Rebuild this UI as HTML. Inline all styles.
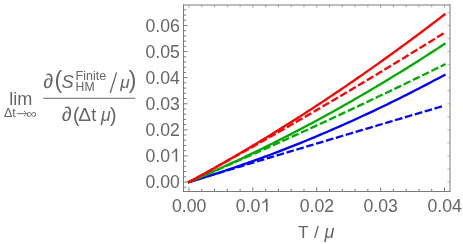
<!DOCTYPE html>
<html><head><meta charset="utf-8"><title>plot</title>
<style>
html,body{margin:0;padding:0;background:#fff;}
body{width:463px;height:244px;position:relative;overflow:hidden;font-family:"Liberation Sans",sans-serif;}
</style></head><body>
<svg width="463" height="244" viewBox="0 0 463 244" style="position:absolute;left:0;top:0;will-change:transform">
<rect x="0" y="0" width="463" height="244" fill="#ffffff"/>
<polyline points="189.00,182.00 192.19,181.05 195.39,180.08 198.58,179.11 201.78,178.12 204.97,177.13 208.16,176.13 211.36,175.11 214.55,174.09 217.74,173.06 220.94,172.02 224.13,170.97 227.32,169.90 230.52,168.83 233.71,167.75 236.91,166.66 240.10,165.56 243.29,164.45 246.49,163.33 249.68,162.20 252.88,161.06 256.07,159.92 259.26,158.76 262.46,157.59 265.65,156.41 268.84,155.22 272.04,154.03 275.23,152.82 278.43,151.60 281.62,150.38 284.81,149.14 288.01,147.89 291.20,146.64 294.39,145.37 297.59,144.10 300.78,142.81 303.98,141.52 307.17,140.22 310.36,138.90 313.56,137.58 316.75,136.24 319.94,134.90 323.14,133.55 326.33,132.19 329.52,130.81 332.72,129.43 335.91,128.04 339.11,126.64 342.30,125.23 345.49,123.81 348.69,122.38 351.88,120.94 355.08,119.49 358.27,118.03 361.46,116.56 364.66,115.08 367.85,113.59 371.04,112.09 374.24,110.59 377.43,109.07 380.62,107.54 383.82,106.00 387.01,104.46 390.21,102.90 393.40,101.33 396.59,99.76 399.79,98.17 402.98,96.58 406.18,94.97 409.37,93.36 412.56,91.73 415.76,90.10 418.95,88.45 422.14,86.80 425.34,85.14 428.53,83.46 431.73,81.78 434.92,80.09 438.11,78.39 441.31,76.68 444.50,74.95" fill="none" stroke="#0000ff" stroke-width="2.3" stroke-linecap="square"/>
<polyline points="189.00,182.00 192.19,181.03 195.39,180.06 198.58,179.10 201.78,178.13 204.97,177.16 208.16,176.19 211.36,175.23 214.55,174.26 217.74,173.30 220.94,172.33 224.13,171.36 227.32,170.40 230.52,169.44 233.71,168.47 236.91,167.51 240.10,166.54 243.29,165.58 246.49,164.62 249.68,163.66 252.88,162.69 256.07,161.73 259.26,160.77 262.46,159.81 265.65,158.85 268.84,157.89 272.04,156.93 275.23,155.97 278.43,155.01 281.62,154.05 284.81,153.09 288.01,152.14 291.20,151.18 294.39,150.22 297.59,149.26 300.78,148.31 303.98,147.35 307.17,146.39 310.36,145.44 313.56,144.48 316.75,143.53 319.94,142.57 323.14,141.62 326.33,140.67 329.52,139.71 332.72,138.76 335.91,137.81 339.11,136.85 342.30,135.90 345.49,134.95 348.69,134.00 351.88,133.05 355.08,132.09 358.27,131.14 361.46,130.19 364.66,129.24 367.85,128.29 371.04,127.35 374.24,126.40 377.43,125.45 380.62,124.50 383.82,123.55 387.01,122.61 390.21,121.66 393.40,120.71 396.59,119.77 399.79,118.82 402.98,117.87 406.18,116.93 409.37,115.98 412.56,115.04 415.76,114.09 418.95,113.15 422.14,112.21 425.34,111.26 428.53,110.32 431.73,109.38 434.92,108.44 438.11,107.49 441.31,106.55 444.50,105.61" fill="none" stroke="#0000ff" stroke-width="2.3" stroke-linecap="square" stroke-dasharray="5.3 5.0"/>
<polyline points="189.00,182.00 192.19,180.64 195.39,179.28 198.58,177.90 201.78,176.52 204.97,175.13 208.16,173.72 211.36,172.31 214.55,170.89 217.74,169.46 220.94,168.02 224.13,166.57 227.32,165.11 230.52,163.64 233.71,162.16 236.91,160.68 240.10,159.18 243.29,157.68 246.49,156.16 249.68,154.64 252.88,153.10 256.07,151.56 259.26,150.01 262.46,148.44 265.65,146.87 268.84,145.29 272.04,143.70 275.23,142.10 278.43,140.49 281.62,138.88 284.81,137.25 288.01,135.61 291.20,133.96 294.39,132.31 297.59,130.64 300.78,128.97 303.98,127.29 307.17,125.59 310.36,123.89 313.56,122.18 316.75,120.46 319.94,118.73 323.14,116.99 326.33,115.24 329.52,113.48 332.72,111.71 335.91,109.93 339.11,108.15 342.30,106.35 345.49,104.54 348.69,102.73 351.88,100.91 355.08,99.07 358.27,97.23 361.46,95.38 364.66,93.51 367.85,91.64 371.04,89.76 374.24,87.87 377.43,85.97 380.62,84.07 383.82,82.15 387.01,80.22 390.21,78.28 393.40,76.34 396.59,74.38 399.79,72.42 402.98,70.44 406.18,68.46 409.37,66.47 412.56,64.46 415.76,62.45 418.95,60.43 422.14,58.40 425.34,56.36 428.53,54.31 431.73,52.25 434.92,50.19 438.11,48.11 441.31,46.02 444.50,43.93" fill="none" stroke="#00aa00" stroke-width="2.3" stroke-linecap="square"/>
<polyline points="189.00,182.00 192.19,180.64 195.39,179.27 198.58,177.91 201.78,176.54 204.97,175.17 208.16,173.79 211.36,172.41 214.55,171.03 217.74,169.65 220.94,168.26 224.13,166.88 227.32,165.48 230.52,164.09 233.71,162.69 236.91,161.29 240.10,159.89 243.29,158.49 246.49,157.08 249.68,155.67 252.88,154.26 256.07,152.84 259.26,151.42 262.46,150.00 265.65,148.58 268.84,147.15 272.04,145.72 275.23,144.29 278.43,142.86 281.62,141.42 284.81,139.98 288.01,138.54 291.20,137.09 294.39,135.65 297.59,134.19 300.78,132.74 303.98,131.29 307.17,129.83 310.36,128.37 313.56,126.90 316.75,125.43 319.94,123.96 323.14,122.49 326.33,121.02 329.52,119.54 332.72,118.06 335.91,116.58 339.11,115.09 342.30,113.60 345.49,112.11 348.69,110.62 351.88,109.12 355.08,107.62 358.27,106.12 361.46,104.61 364.66,103.11 367.85,101.60 371.04,100.08 374.24,98.57 377.43,97.05 380.62,95.53 383.82,94.01 387.01,92.48 390.21,90.95 393.40,89.42 396.59,87.89 399.79,86.35 402.98,84.81 406.18,83.27 409.37,81.72 412.56,80.17 415.76,78.62 418.95,77.07 422.14,75.51 425.34,73.95 428.53,72.39 431.73,70.83 434.92,69.26 438.11,67.69 441.31,66.12 444.50,64.55" fill="none" stroke="#00aa00" stroke-width="2.3" stroke-linecap="square" stroke-dasharray="5.3 5.0"/>
<polyline points="189.00,182.00 192.19,180.27 195.39,178.53 198.58,176.78 201.78,175.02 204.97,173.25 208.16,171.47 211.36,169.68 214.55,167.88 217.74,166.08 220.94,164.26 224.13,162.44 227.32,160.61 230.52,158.76 233.71,156.91 236.91,155.05 240.10,153.18 243.29,151.30 246.49,149.42 249.68,147.52 252.88,145.61 256.07,143.70 259.26,141.77 262.46,139.84 265.65,137.90 268.84,135.94 272.04,133.98 275.23,132.01 278.43,130.03 281.62,128.04 284.81,126.04 288.01,124.04 291.20,122.02 294.39,120.00 297.59,117.96 300.78,115.92 303.98,113.86 307.17,111.80 310.36,109.73 313.56,107.65 316.75,105.56 319.94,103.46 323.14,101.35 326.33,99.24 329.52,97.11 332.72,94.97 335.91,92.83 339.11,90.68 342.30,88.51 345.49,86.34 348.69,84.16 351.88,81.97 355.08,79.77 358.27,77.56 361.46,75.34 364.66,73.12 367.85,70.88 371.04,68.63 374.24,66.38 377.43,64.12 380.62,61.84 383.82,59.56 387.01,57.27 390.21,54.97 393.40,52.66 396.59,50.34 399.79,48.01 402.98,45.68 406.18,43.33 409.37,40.97 412.56,38.61 415.76,36.24 418.95,33.85 422.14,31.46 425.34,29.06 428.53,26.65 431.73,24.23 434.92,21.80 438.11,19.36 441.31,16.92 444.50,14.46" fill="none" stroke="#ff0000" stroke-width="2.3" stroke-linecap="square"/>
<polyline points="189.00,182.00 192.19,180.26 195.39,178.52 198.58,176.78 201.78,175.03 204.97,173.28 208.16,171.53 211.36,169.78 214.55,168.02 217.74,166.25 220.94,164.49 224.13,162.72 227.32,160.94 230.52,159.17 233.71,157.39 236.91,155.61 240.10,153.82 243.29,152.03 246.49,150.24 249.68,148.44 252.88,146.65 256.07,144.84 259.26,143.04 262.46,141.23 265.65,139.42 268.84,137.60 272.04,135.78 275.23,133.96 278.43,132.14 281.62,130.31 284.81,128.48 288.01,126.64 291.20,124.80 294.39,122.96 297.59,121.12 300.78,119.27 303.98,117.42 307.17,115.56 310.36,113.70 313.56,111.84 316.75,109.98 319.94,108.11 323.14,106.24 326.33,104.36 329.52,102.49 332.72,100.61 335.91,98.72 339.11,96.83 342.30,94.94 345.49,93.05 348.69,91.15 351.88,89.25 355.08,87.35 358.27,85.44 361.46,83.53 364.66,81.62 367.85,79.70 371.04,77.78 374.24,75.85 377.43,73.93 380.62,72.00 383.82,70.06 387.01,68.13 390.21,66.19 393.40,64.24 396.59,62.30 399.79,60.35 402.98,58.39 406.18,56.44 409.37,54.48 412.56,52.52 415.76,50.55 418.95,48.58 422.14,46.61 425.34,44.63 428.53,42.65 431.73,40.67 434.92,38.68 438.11,36.69 441.31,34.70 444.50,32.71" fill="none" stroke="#ff0000" stroke-width="2.3" stroke-linecap="square" stroke-dasharray="5.3 5.0"/>
<path d="M189.00,191.5v-4.0 M201.78,191.5v-2.7 M214.55,191.5v-2.7 M227.32,191.5v-2.7 M240.10,191.5v-2.7 M252.88,191.5v-4.0 M265.65,191.5v-2.7 M278.43,191.5v-2.7 M291.20,191.5v-2.7 M303.98,191.5v-2.7 M316.75,191.5v-4.0 M329.52,191.5v-2.7 M342.30,191.5v-2.7 M355.08,191.5v-2.7 M367.85,191.5v-2.7 M380.62,191.5v-4.0 M393.40,191.5v-2.7 M406.18,191.5v-2.7 M418.95,191.5v-2.7 M431.73,191.5v-2.7 M444.50,191.5v-4.0 M183.5,187.22h2.7 M183.5,182.00h4.0 M183.5,176.78h2.7 M183.5,171.57h2.7 M183.5,166.35h2.7 M183.5,161.13h2.7 M183.5,155.92h4.0 M183.5,150.70h2.7 M183.5,145.48h2.7 M183.5,140.27h2.7 M183.5,135.05h2.7 M183.5,129.83h4.0 M183.5,124.62h2.7 M183.5,119.40h2.7 M183.5,114.18h2.7 M183.5,108.97h2.7 M183.5,103.75h4.0 M183.5,98.53h2.7 M183.5,93.32h2.7 M183.5,88.10h2.7 M183.5,82.88h2.7 M183.5,77.67h4.0 M183.5,72.45h2.7 M183.5,67.23h2.7 M183.5,62.02h2.7 M183.5,56.80h2.7 M183.5,51.58h4.0 M183.5,46.37h2.7 M183.5,41.15h2.7 M183.5,35.93h2.7 M183.5,30.72h2.7 M183.5,25.50h4.0 M183.5,20.28h2.7 M183.5,15.07h2.7 M183.5,9.85h2.7" stroke="#7a7a7a" stroke-width="1" fill="none"/>
<path d="M189.00,5.0v2.7 M201.78,5.0v2.3 M214.55,5.0v2.3 M227.32,5.0v2.3 M240.10,5.0v2.3 M252.88,5.0v2.7 M265.65,5.0v2.3 M278.43,5.0v2.3 M291.20,5.0v2.3 M303.98,5.0v2.3 M316.75,5.0v2.7 M329.52,5.0v2.3 M342.30,5.0v2.3 M355.08,5.0v2.3 M367.85,5.0v2.3 M380.62,5.0v2.7 M393.40,5.0v2.3 M406.18,5.0v2.3 M418.95,5.0v2.3 M431.73,5.0v2.3 M444.50,5.0v2.7" stroke="#a6a6a6" stroke-width="1" fill="none"/>
<path d="M450.0,182.00h-2.7 M450.0,168.96h-2.7 M450.0,155.92h-2.7 M450.0,142.88h-2.7 M450.0,129.83h-2.7 M450.0,116.79h-2.7 M450.0,103.75h-2.7 M450.0,90.71h-2.7 M450.0,77.67h-2.7 M450.0,64.62h-2.7 M450.0,51.58h-2.7 M450.0,38.54h-2.7 M450.0,25.50h-2.7 M450.0,12.46h-2.7" stroke="#bdbdbd" stroke-width="1" fill="none"/>
<path d="M183.5,4.5V192.0M450.0,4.5V192.0M183.0,5.0H450.5M183.0,191.5H450.5" fill="none" stroke="#7a7a7a" stroke-width="1"/>
<text x="145.40" y="188.10" font-size="18.1" textLength="34.4" lengthAdjust="spacingAndGlyphs" font-family="Liberation Sans, sans-serif" fill="#666666">0.00</text>
<text x="145.40" y="162.02" font-size="18.1" textLength="24.57" lengthAdjust="spacingAndGlyphs" font-family="Liberation Sans, sans-serif" fill="#666666">0.0</text>
<path d="M175.60,148.67H177.18V161.67H175.60Z M175.90,148.67L175.90,150.87Q174.00,152.67 172.10,153.57L171.70,152.27Q174.40,151.07 175.50,148.67Z" fill="#666666"/>
<text x="145.40" y="135.93" font-size="18.1" textLength="34.4" lengthAdjust="spacingAndGlyphs" font-family="Liberation Sans, sans-serif" fill="#666666">0.02</text>
<text x="145.40" y="109.85" font-size="18.1" textLength="34.4" lengthAdjust="spacingAndGlyphs" font-family="Liberation Sans, sans-serif" fill="#666666">0.03</text>
<text x="145.40" y="83.77" font-size="18.1" textLength="34.4" lengthAdjust="spacingAndGlyphs" font-family="Liberation Sans, sans-serif" fill="#666666">0.04</text>
<text x="145.40" y="57.68" font-size="18.1" textLength="34.4" lengthAdjust="spacingAndGlyphs" font-family="Liberation Sans, sans-serif" fill="#666666">0.05</text>
<text x="145.40" y="31.60" font-size="18.1" textLength="34.4" lengthAdjust="spacingAndGlyphs" font-family="Liberation Sans, sans-serif" fill="#666666">0.06</text>
<text x="171.90" y="212.05" font-size="18.1" textLength="34.4" lengthAdjust="spacingAndGlyphs" font-family="Liberation Sans, sans-serif" fill="#666666">0.00</text>
<text x="235.78" y="212.05" font-size="18.1" textLength="24.57" lengthAdjust="spacingAndGlyphs" font-family="Liberation Sans, sans-serif" fill="#666666">0.0</text>
<path d="M265.98,198.70H267.56V211.70H265.98Z M266.28,198.70L266.28,200.90Q264.38,202.70 262.48,203.60L262.08,202.30Q264.78,201.10 265.88,198.70Z" fill="#666666"/>
<text x="299.65" y="212.05" font-size="18.1" textLength="34.4" lengthAdjust="spacingAndGlyphs" font-family="Liberation Sans, sans-serif" fill="#666666">0.02</text>
<text x="363.53" y="212.05" font-size="18.1" textLength="34.4" lengthAdjust="spacingAndGlyphs" font-family="Liberation Sans, sans-serif" fill="#666666">0.03</text>
<text x="427.40" y="212.05" font-size="18.1" textLength="34.4" lengthAdjust="spacingAndGlyphs" font-family="Liberation Sans, sans-serif" fill="#666666">0.04</text>
<text x="298.0" y="238.1" font-size="17.3" font-family="Liberation Sans, sans-serif" fill="#666666">T</text>
<text x="314.0" y="238.1" font-size="17.3" font-family="Liberation Sans, sans-serif" fill="#666666">/</text>
<text x="324.5" y="238.1" font-size="18" font-style="italic" font-family="Liberation Sans, sans-serif" fill="#666666">μ</text>
<text x="9.3" y="104.5" font-size="18.1" font-family="Liberation Sans, sans-serif" fill="#666666">lim</text>
<text x="3.9" y="117" font-size="12.6" font-family="Liberation Sans, sans-serif" fill="#666666">Δt</text>
<path d="M16.9,113.6H26.6M23.9,110.8L26.8,113.6L23.9,116.4" fill="none" stroke="#666666" stroke-width="0.9"/>
<text transform="translate(26.6,117.5) scale(1.16,1)" x="0" y="0" font-size="12.6" font-family="Liberation Sans, sans-serif" fill="#666666">∞</text>
<rect x="43.3" y="97.75" width="92.0" height="1" fill="#666666"/>
<text x="43.5" y="87.8" font-size="20" font-style="italic" font-family="Liberation Sans, sans-serif" fill="#666666">∂</text>
<text x="54.6" y="88.2" font-size="23" font-family="Liberation Sans, sans-serif" fill="#666666">(</text>
<text x="61.5" y="87.7" font-size="18.3" font-style="italic" font-family="Liberation Sans, sans-serif" fill="#666666">S</text>
<text x="75.6" y="79.5" font-size="12.2" textLength="30.6" lengthAdjust="spacingAndGlyphs" font-family="Liberation Sans, sans-serif" fill="#666666">Finite</text>
<text x="75.6" y="91.3" font-size="12.2" font-family="Liberation Sans, sans-serif" fill="#666666">HM</text>
<path d="M110.2,93.0L116.6,72.4" fill="none" stroke="#666666" stroke-width="1.3"/>
<text x="120.3" y="87.7" font-size="17.3" font-style="italic" font-family="Liberation Sans, sans-serif" fill="#666666">μ</text>
<text x="128.8" y="88.2" font-size="23" font-family="Liberation Sans, sans-serif" fill="#666666">)</text>
<text x="62.1" y="121.4" font-size="20" font-style="italic" font-family="Liberation Sans, sans-serif" fill="#666666">∂</text>
<text x="73.0" y="122.2" font-size="19.5" font-family="Liberation Sans, sans-serif" fill="#666666">(</text>
<text x="78.3" y="121.3" font-size="19.2" font-family="Liberation Sans, sans-serif" fill="#666666">Δ</text>
<text x="91.2" y="121.3" font-size="18.1" font-family="Liberation Sans, sans-serif" fill="#666666">t</text>
<text x="100.9" y="121.3" font-size="17.8" font-style="italic" font-family="Liberation Sans, sans-serif" fill="#666666">μ</text>
<text x="110.0" y="122.2" font-size="19.5" font-family="Liberation Sans, sans-serif" fill="#666666">)</text>
</svg>
</body></html>
